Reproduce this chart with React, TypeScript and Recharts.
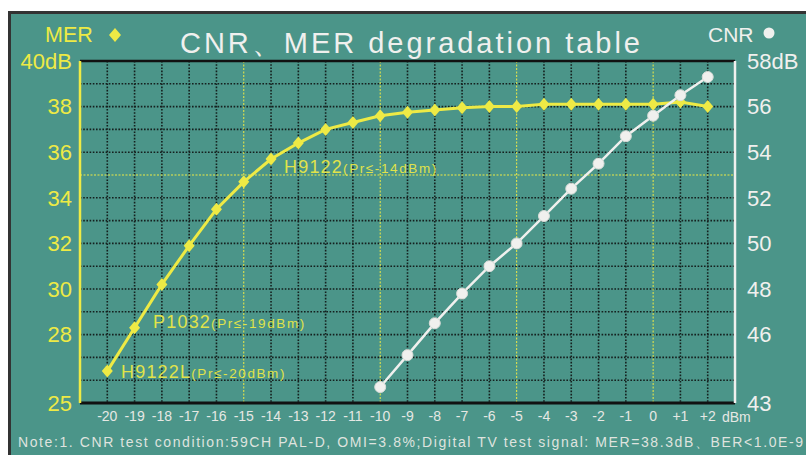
import { CartesianGrid, Line, LineChart, XAxis, YAxis } from "recharts";

const xValues = [-20, -19, -18, -17, -16, -15, -14, -13, -12, -11, -10, -9, -8, -7, -6, -5, -4, -3, -2, -1, 0, 1, 2];
const merValues = [26.4, 28.3, 30.2, 31.9, 33.5, 34.7, 35.7, 36.4, 37.0, 37.3, 37.6, 37.75, 37.85, 37.95, 38.0, 38.0, 38.1, 38.1, 38.1, 38.1, 38.1, 38.2, 38.0];
// CNR only measured from -10 dBm upwards
const cnrX = [-10, -9, -8, -7, -6, -5, -4, -3, -2, -1, 0, 1, 2];
const cnrValues = [43.7, 45.1, 46.5, 47.8, 49.0, 50.0, 51.2, 52.4, 53.5, 54.7, 55.6, 56.5, 57.3];

const xTicks = [-20, -19, -18, -17, -16, -15, -14, -13, -12, -11, -10, -9, -8, -7, -6, -5, -4, -3, -2, -1, 0, 1, 2];
const xTickLabels = ["-20", "-19", "-18", "-17", "-16", "-15", "-14", "-13", "-12", "-11", "-10", "-9", "-8", "-7", "-6", "-5", "-4", "-3", "-2", "-1", "0", "+1", "+2"];
const merTicks = [25, 28, 30, 32, 34, 36, 38, 40];
const cnrTicks = [43, 46, 48, 50, 52, 54, 56, 58];
const gridY = [26, 27, 28, 29, 30, 31, 32, 33, 34, 36, 37, 38, 39];
const highlightX = [-15, -10, -5, 0];
const highlightY = [35];

const data = xValues.map((x, i) => {
  const j = cnrX.indexOf(x);
  return { x, mer: merValues[i], cnr: j >= 0 ? cnrValues[j] : null };
});

const TEAL = "#4b9589";
const YELLOW = "#eeea45";
const WHITE = "#f0f0ee";
const FONT = "'Liberation Sans', Arial, sans-serif";

const Diamond = (props: any) => {
  const { cx, cy } = props;
  if (cx == null || cy == null) return null;
  return <polygon points={`${cx},${cy - 6.5} ${cx + 5.5},${cy} ${cx},${cy + 6.5} ${cx - 5.5},${cy}`} fill={YELLOW} />;
};

const Dot = (props: any) => {
  const { cx, cy } = props;
  if (cx == null || cy == null) return null;
  return <circle cx={cx} cy={cy} r={5.5} fill={WHITE} stroke="#d8dcd8" strokeWidth={1} />;
};

export default function App() {
  return (
    <div style={{ position: "fixed", left: 0, top: 0, width: 806, height: 455, background: "#fff", overflow: "hidden" }}>
      <div
        style={{
          position: "absolute",
          left: 8,
          top: 11,
          width: 798,
          height: 444,
          background: TEAL,
          borderTop: "3px solid #333",
          borderLeft: "3px solid #333",
        }}
      />
      <div style={{ position: "absolute", left: 0, top: 0 }}>
        <LineChart width={806} height={455} data={data} margin={{ top: 61, right: 0, bottom: 22, left: 0 }}>
          <CartesianGrid
            yAxisId="mer"
            stroke="#15201e"
            strokeWidth={1.6}
            strokeDasharray="1.6 1.6"
            horizontalValues={gridY}
            verticalValues={xTicks.filter((v) => !highlightX.includes(v))}
          />
          <CartesianGrid
            yAxisId="mer"
            stroke={YELLOW}
            strokeWidth={1}
            strokeDasharray="2 1.5"
            horizontalValues={highlightY}
            verticalValues={highlightX}
          />
          <CartesianGrid yAxisId="mer" stroke="#111" strokeWidth={2.5} vertical={false} horizontalValues={[40]} />
          <XAxis
            type="number"
            dataKey="x"
            domain={[-21, 3]}
            ticks={xTicks}
            interval={0}
            height={30}
            tickLine={false}
            axisLine={{ stroke: "#111", strokeWidth: 3 }}
            tick={{ fill: "#e6e8e4", fontSize: 14, fontFamily: FONT }}
            tickFormatter={(v: number) => xTickLabels[xTicks.indexOf(v)]}
          />
          <YAxis
            yAxisId="mer"
            domain={[25, 40]}
            ticks={merTicks}
            interval={0}
            width={80}
            tickLine={false}
            axisLine={{ stroke: YELLOW, strokeWidth: 2.5 }}
            tick={{ fill: YELLOW, fontSize: 22, fontFamily: FONT }}
            tickFormatter={(v: number) => (v === 40 ? "40dB" : String(v))}
          />
          <YAxis
            yAxisId="cnr"
            orientation="right"
            domain={[43, 58]}
            ticks={cnrTicks}
            interval={0}
            width={71}
            tickLine={false}
            tickMargin={6}
            axisLine={{ stroke: WHITE, strokeWidth: 2.5 }}
            tick={{ fill: WHITE, fontSize: 22, fontFamily: FONT }}
            tickFormatter={(v: number) => (v === 58 ? "58dB" : String(v))}
          />
          <Line
            yAxisId="mer"
            type="linear"
            dataKey="mer"
            stroke={YELLOW}
            strokeWidth={3}
            dot={<Diamond />}
            activeDot={false}
            isAnimationActive={false}
          />
          <Line
            yAxisId="cnr"
            type="linear"
            dataKey="cnr"
            stroke={WHITE}
            strokeWidth={2.5}
            dot={<Dot />}
            activeDot={false}
            connectNulls={false}
            isAnimationActive={false}
          />
        </LineChart>
      </div>
      <svg width={806} height={455} style={{ position: "absolute", left: 0, top: 0, pointerEvents: "none" }} fontFamily={FONT}>
        <text x={180} y={53} fontSize={29} fill={WHITE} textLength={460} lengthAdjust="spacing">
          CNR、MER degradation table
        </text>
        <text x={45} y={42} fontSize={21.5} fill={YELLOW}>MER</text>
        <polygon points="115,28 121,35 115,42 109,35" fill={YELLOW} />
        <text x={708} y={42} fontSize={21} fill={WHITE}>CNR</text>
        <circle cx={769} cy={33} r={5.5} fill={WHITE} />

        <g fill={YELLOW} opacity={0.92}>
          <text x={284} y={173}>
            <tspan fontSize={18} letterSpacing={1.2}>H9122</tspan>
            <tspan fontSize={13.5} letterSpacing={1.6}>(Pr≤-14dBm)</tspan>
          </text>
          <text x={153} y={328}>
            <tspan fontSize={18} letterSpacing={1.2}>P1032</tspan>
            <tspan fontSize={13.5} letterSpacing={1.6}>(Pr≤-19dBm)</tspan>
          </text>
          <text x={121} y={378}>
            <tspan fontSize={18} letterSpacing={1.2}>H9122L</tspan>
            <tspan fontSize={13.5} letterSpacing={1.6}>(Pr≤-20dBm)</tspan>
          </text>
        </g>

        <text x={722} y={422} fontSize={14} fill="#e6e8e4">dBm</text>
        <text x={18} y={447} fontSize={14} fill="#dfe3df" textLength={785} lengthAdjust="spacing">
          Note:1. CNR test condition:59CH PAL-D, OMI=3.8%;Digital TV test signal:  MER=38.3dB、BER&lt;1.0E-9
        </text>
      </svg>
    </div>
  );
}
